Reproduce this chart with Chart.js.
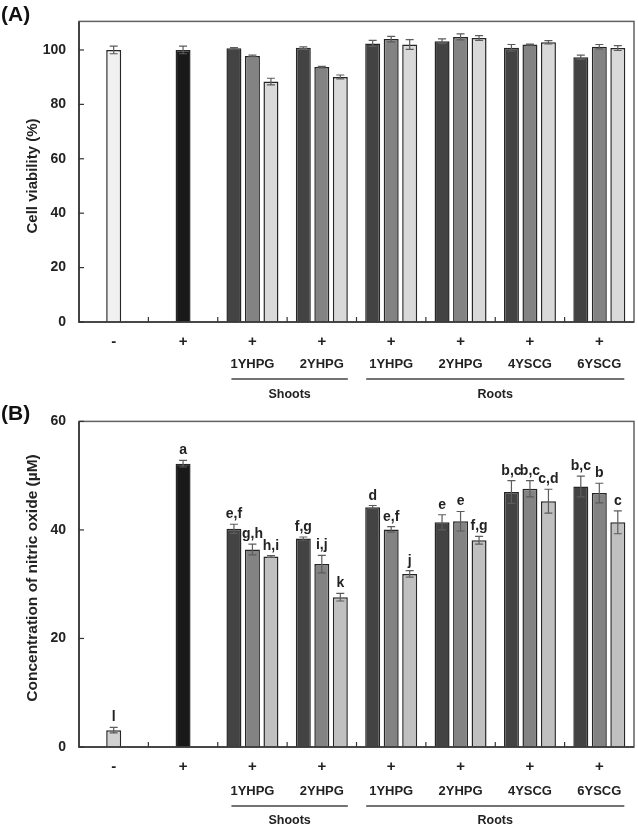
<!DOCTYPE html>
<html><head><meta charset="utf-8">
<script src="https://cdn.jsdelivr.net/npm/chart.js@4/dist/chart.umd.min.js"></script>
<style>
html,body{margin:0;padding:0;background:#fff;}
#wa{position:absolute;left:0;top:0;width:638px;height:400px;}
#wb{position:absolute;left:0;top:400px;width:638px;height:429px;}
</style></head><body>
<div id="wa"><canvas id="ca" width="638" height="400"></canvas></div>
<div id="wb"><canvas id="cb" width="638" height="429"></canvas></div>
<script>
// ---- shared categories ----
const categories = ['-', '+', '1YHPG', '2YHPG', '1YHPG', '2YHPG', '4YSCG', '6YSCG'];
const treatment = ['-', '+', '+', '+', '+', '+', '+', '+'];
const groupNames = ['Shoots', 'Roots'];
const groupSpans = [[2, 3], [4, 7]];
const yTicksA = [0, 20, 40, 60, 80, 100];
const yTicksB = [0, 20, 40, 60];

// ---- (A) cell viability (%) ----
const viabNeg = 100.0, viabNegErr = 1.4;
const viabPos = 100.0, viabPosErr = 1.4;
const viabDark = [100.6, 100.8, 102.4, 103.2, 100.8, 97.3];
const viabDarkErr = [0.3, 0.3, 1.1, 0.9, 1.2, 0.8];
const viabMed = [97.8, 93.7, 104.0, 104.8, 102.0, 101.2];
const viabMedErr = [0.3, 0.3, 1.0, 1.1, 0.2, 0.8];
const viabLight = [88.4, 90.1, 102.0, 104.4, 102.8, 100.7];
const viabLightErr = [1.2, 0.7, 1.8, 0.9, 0.6, 0.9];

// ---- (B) nitric oxide (uM) ----
const noNeg = 3.1, noNegErr = 0.5, noNegLetter = 'l';
const noPos = 52.2, noPosErr = 0.6, noPosLetter = 'a';
const noDark = [40.2, 38.4, 44.2, 41.4, 47.0, 48.0];
const noDarkErr = [0.85, 0.3, 0.3, 1.4, 2.1, 1.9];
const noMed = [36.4, 33.7, 40.1, 41.6, 47.6, 46.8];
const noMedErr = [1.0, 1.6, 0.5, 1.8, 1.5, 1.8];
const noLight = [35.1, 27.6, 31.9, 38.1, 45.3, 41.4];
const noLightErr = [0.15, 0.7, 0.6, 0.7, 2.2, 2.1];
const noDarkLetters = ['e,f', 'f,g', 'd', 'e', 'b,c', 'b,c'];
const noMedLetters = ['g,h', 'i,j', 'e,f', 'e', 'b,c', 'b'];
const noLightLetters = ['h,i', 'k', 'j', 'f,g', 'c,d', 'c'];

const FONT = '"Liberation Sans", Arial, Helvetica, sans-serif';

function makeChart(canvasId, cfg) {
  const pad = [null, null];
  const n = cfg.dark.length;
  const data0 = [cfg.neg, cfg.pos].concat(cfg.dark);
  const data1 = pad.concat(cfg.med);
  const data2 = pad.concat(cfg.light);
  const err0 = [cfg.negErr, cfg.posErr].concat(cfg.darkErr);
  const err1 = pad.concat(cfg.medErr);
  const err2 = pad.concat(cfg.lightErr);
  const lab0 = cfg.letters ? [cfg.negLetter, cfg.posLetter].concat(cfg.letters[0]) : null;
  const lab1 = cfg.letters ? pad.concat(cfg.letters[1]) : null;
  const lab2 = cfg.letters ? pad.concat(cfg.letters[2]) : null;
  const col0 = [cfg.negColor, '#191919'].concat(Array(n).fill('#434343'));
  const common = {
    borderColor: '#262626', borderWidth: 1.5,
    barPercentage: 0.81, categoryPercentage: 0.8, maxBarThickness: 15, skipNull: true
  };
  const deco = {
    id: 'deco',
    afterDatasetsDraw(chart) {
      const ctx = chart.ctx, a = chart.chartArea, x = chart.scales.x, y = chart.scales.y;
      ctx.save();
      // error bars + letters
      chart.data.datasets.forEach((ds, di) => {
        const meta = chart.getDatasetMeta(di);
        meta.data.forEach((el, i) => {
          const v = ds.data[i];
          if (v == null) return;
          const e = ds.err[i];
          const yt = y.getPixelForValue(v + e), yb = y.getPixelForValue(v - e);
          ctx.strokeStyle = '#5c5c5c'; ctx.lineWidth = 1.2;
          ctx.beginPath();
          ctx.moveTo(el.x, yt); ctx.lineTo(el.x, yb);
          ctx.moveTo(el.x - 4, yt); ctx.lineTo(el.x + 4, yt);
          ctx.moveTo(el.x - 4, yb); ctx.lineTo(el.x + 4, yb);
          ctx.stroke();
          if (ds.letters && ds.letters[i]) {
            ctx.fillStyle = '#222';
            ctx.font = 'bold 14px ' + FONT;
            ctx.textAlign = 'center'; ctx.textBaseline = 'alphabetic';
            ctx.fillText(ds.letters[i], el.x, yt - 6);
          }
        });
      });
      // frame
      ctx.strokeStyle = '#606060'; ctx.lineWidth = 1.5;
      ctx.strokeRect(a.left, a.top, a.right - a.left, a.bottom - a.top);
      ctx.strokeStyle = '#333'; ctx.lineWidth = 1.6;
      ctx.beginPath();
      ctx.moveTo(a.left, a.top); ctx.lineTo(a.left, a.bottom); ctx.lineTo(a.right, a.bottom);
      ctx.stroke();
      // y tick marks (inward)
      ctx.lineWidth = 1.2; ctx.strokeStyle = '#333';
      cfg.yTicks.forEach(t => {
        const py = y.getPixelForValue(t);
        ctx.beginPath(); ctx.moveTo(a.left, py); ctx.lineTo(a.left + 5, py); ctx.stroke();
      });
      // x tick marks at category boundaries (inward)
      for (let i = 1; i < categories.length; i++) {
        const px = (x.getPixelForValue(i - 1) + x.getPixelForValue(i)) / 2;
        ctx.beginPath(); ctx.moveTo(px, a.bottom); ctx.lineTo(px, a.bottom - 5); ctx.stroke();
      }
      // x labels
      ctx.fillStyle = '#222'; ctx.textAlign = 'center'; ctx.textBaseline = 'middle';
      categories.forEach((c, i) => {
        const px = x.getPixelForValue(i);
        ctx.font = 'bold 15px ' + FONT;
        ctx.fillText(treatment[i], px, a.bottom + cfg.rowPlus);
        if (i >= 2) {
          ctx.font = 'bold 13px ' + FONT;
          ctx.fillText(c, px, a.bottom + cfg.rowName);
        }
      });
      // group lines
      const gOff = [[-21, 26], [-25, 25]];
      groupSpans.forEach((g, gi) => {
        const x1 = x.getPixelForValue(g[0]) + gOff[gi][0];
        const x2 = x.getPixelForValue(g[1]) + gOff[gi][1];
        ctx.strokeStyle = '#444'; ctx.lineWidth = 1.3;
        ctx.beginPath(); ctx.moveTo(x1, a.bottom + cfg.rowLine); ctx.lineTo(x2, a.bottom + cfg.rowLine); ctx.stroke();
        ctx.font = 'bold 12.5px ' + FONT;
        ctx.fillText(groupNames[gi], (x1 + x2) / 2, a.bottom + cfg.rowGroup);
      });
      // panel label
      ctx.font = 'bold 21px ' + FONT; ctx.textAlign = 'left'; ctx.textBaseline = 'middle';
      ctx.fillStyle = '#111';
      ctx.fillText(cfg.panel, 1, cfg.panelY);
      // y title
      ctx.save();
      ctx.translate(cfg.titleX, cfg.titleY); ctx.rotate(-Math.PI / 2);
      ctx.font = 'bold ' + cfg.titleSize + 'px ' + FONT; ctx.textAlign = 'center'; ctx.textBaseline = 'middle';
      ctx.fillStyle = '#222';
      ctx.fillText(cfg.title, 0, 0);
      ctx.restore();
      ctx.restore();
    }
  };
  return new Chart(document.getElementById(canvasId), {
    type: 'bar',
    data: {
      labels: categories,
      datasets: [
        Object.assign({ data: data0, err: err0, letters: lab0, backgroundColor: col0 }, common),
        Object.assign({ data: data1, err: err1, letters: lab1, backgroundColor: '#838383' }, common),
        Object.assign({ data: data2, err: err2, letters: lab2, backgroundColor: cfg.lightColor }, common)
      ]
    },
    options: {
      responsive: false, animation: false, devicePixelRatio: 1,
      layout: { padding: { top: cfg.padTop, right: 4, left: 0, bottom: 0 } },
      plugins: { legend: { display: false }, tooltip: { enabled: false } },
      scales: {
        x: {
          grid: { display: false, drawTicks: false }, border: { display: false },
          ticks: { display: false },
          afterFit: s => { s.height = cfg.xHeight; }
        },
        y: {
          min: 0, max: cfg.max,
          grid: { display: false, drawTicks: false }, border: { display: false },
          ticks: { stepSize: 20, padding: 13, color: '#222', font: { family: FONT, size: 14, weight: 'bold' } },
          afterBuildTicks: s => { s.ticks = cfg.yTicks.map(v => ({ value: v })); },
          afterFit: s => { s.width = 79; }
        }
      }
    },
    plugins: [deco]
  });
}

makeChart('ca', {
  neg: viabNeg, negErr: viabNegErr, pos: viabPos, posErr: viabPosErr,
  dark: viabDark, darkErr: viabDarkErr, med: viabMed, medErr: viabMedErr,
  light: viabLight, lightErr: viabLightErr, letters: null,
  negColor: '#f0f0f0', lightColor: '#d9d9d9',
  yTicks: yTicksA, max: 110.5, padTop: 9, xHeight: 78,
  rowPlus: 20, rowName: 42, rowLine: 57, rowGroup: 73,
  panel: '(A)', panelY: 15, title: 'Cell viability (%)', titleX: 33, titleY: 176, titleSize: 15
});

makeChart('cb', {
  neg: noNeg, negErr: noNegErr, pos: noPos, posErr: noPosErr,
  dark: noDark, darkErr: noDarkErr, med: noMed, medErr: noMedErr,
  light: noLight, lightErr: noLightErr,
  negLetter: noNegLetter, posLetter: noPosLetter,
  letters: [noDarkLetters, noMedLetters, noLightLetters],
  negColor: '#d2d2d2', lightColor: '#c0c0c0',
  yTicks: yTicksB, max: 60, padTop: 17.5, xHeight: 82,
  rowPlus: 20, rowName: 44, rowLine: 59, rowGroup: 74,
  panel: '(B)', panelY: 14, title: 'Concentration of nitric oxide (\u00b5M)', titleX: 33, titleY: 178, titleSize: 15.5
});
</script>
</body></html>
